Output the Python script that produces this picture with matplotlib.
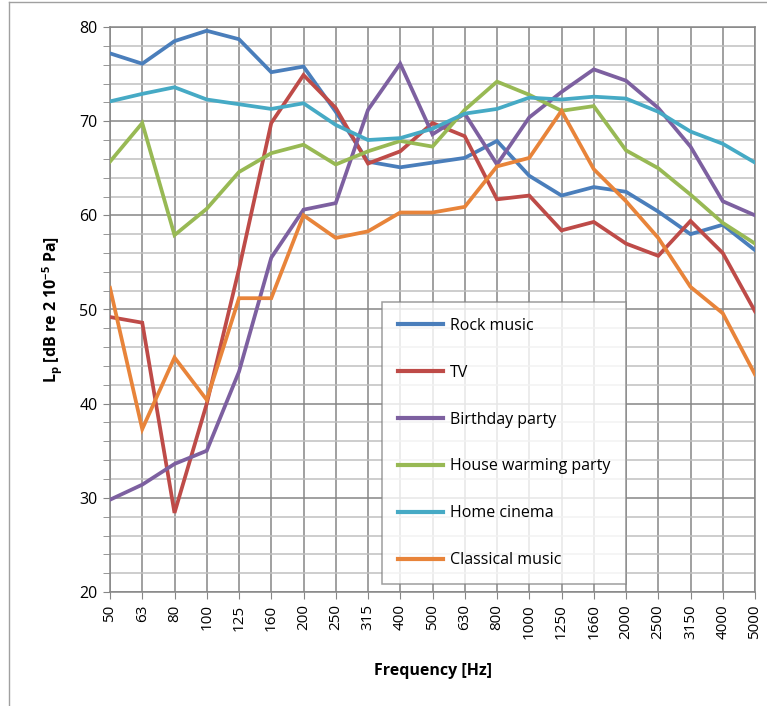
import matplotlib
matplotlib.use("Agg")
import matplotlib.pyplot as plt
from matplotlib.ticker import MultipleLocator
from matplotlib.lines import Line2D

plt.rcParams['font.family'] = ['Open Sans', 'DejaVu Sans']

freqs = ["50", "63", "80", "100", "125", "160", "200", "250", "315", "400", "500",
         "630", "800", "1000", "1250", "1660", "2000", "2500", "3150", "4000", "5000"]

rock = [77.2, 76.1, 78.5, 79.6, 78.7, 75.2, 75.8, 71.0, 65.7, 65.1, 65.6,
        66.1, 67.9, 64.2, 62.1, 63.0, 62.5, 60.4, 58.0, 59.0, 56.3]
tv = [49.2, 48.6, 28.4, 40.0, 54.3, 69.8, 74.9, 71.4, 65.5, 66.8, 69.8,
      68.4, 61.7, 62.1, 58.4, 59.3, 57.0, 55.7, 59.4, 56.0, 49.8]
birthday = [29.8, 31.4, 33.6, 35.0, 43.4, 55.5, 60.6, 61.3, 71.2, 76.1, 68.6,
            70.8, 65.4, 70.4, 73.1, 75.5, 74.3, 71.4, 67.3, 61.5, 60.0]
house = [65.7, 69.8, 57.9, 60.7, 64.6, 66.6, 67.5, 65.4, 66.8, 67.9, 67.3,
         71.2, 74.2, 72.8, 71.1, 71.6, 66.9, 65.0, 62.2, 59.2, 57.0]
cinema = [72.1, 72.9, 73.6, 72.3, 71.8, 71.3, 71.9, 69.6, 68.0, 68.2, 69.2,
          70.8, 71.3, 72.5, 72.3, 72.6, 72.4, 71.0, 68.9, 67.6, 65.6]
classical = [52.3, 37.3, 44.9, 40.4, 51.2, 51.2, 60.0, 57.6, 58.3, 60.3, 60.3,
             60.9, 65.2, 66.1, 71.1, 64.9, 61.5, 57.6, 52.4, 49.6, 43.1]

series_names = ["Rock music", "TV", "Birthday party", "House warming party",
                "Home cinema", "Classical music"]
series_values = [rock, tv, birthday, house, cinema, classical]
colors = ["#4A7EBB", "#BE4B48", "#7D60A0", "#98B954", "#46AAC5", "#E8843A"]

W, H = 767, 706
fig = plt.figure(figsize=(W / 100, H / 100), dpi=100)
ax = fig.add_axes([110 / W, (H - 592) / H, (755 - 110) / W, (592 - 27) / H])

x = list(range(len(freqs)))
for name, vals, c in zip(series_names, series_values, colors):
    ax.plot(x, vals, color=c, lw=2.7, label=name, solid_joinstyle='miter', zorder=3)

ax.set_xlim(0, len(freqs) - 1)
ax.set_ylim(20, 80)
ax.set_xticks(x)
ax.set_xticklabels(freqs, rotation=90, fontsize=11)
ax.yaxis.set_major_locator(MultipleLocator(10))
ax.yaxis.set_minor_locator(MultipleLocator(2))
ax.tick_params(axis='y', which='major', labelsize=11.5, length=5, color='#868686', pad=4)
ax.tick_params(axis='y', which='minor', length=5, color='#868686')
ax.tick_params(axis='x', length=5, color='#868686', pad=4)

ax.grid(True, which='major', axis='y', color='#868686', lw=1.1, zorder=0)
ax.grid(True, which='minor', axis='y', color='#C0C0C0', lw=1.1, zorder=0)
ax.grid(True, which='major', axis='x', color='#868686', lw=1.1, zorder=0)
ax.set_axisbelow(True)
for s in ax.spines.values():
    s.set_color('#868686')
    s.set_linewidth(1.1)

ax.set_xlabel("Frequency [Hz]", fontsize=11.5, fontweight='bold', labelpad=17)
ax.set_ylabel(r"L$_\mathregular{p}$ [dB re 2 10$^{\mathregular{-5}}$ Pa]", fontsize=11.5,
              fontweight='bold', labelpad=10)

leg = ax.legend(loc='upper left', bbox_to_anchor=((382 - 110) / 645, (592 - 302) / 565),
                fontsize=11.5, frameon=True, fancybox=False, labelspacing=1.93,
                handlelength=2.8, handletextpad=0.45, borderpad=1.0,
                borderaxespad=0.0)
leg.get_frame().set_edgecolor('#868686')
leg.get_frame().set_linewidth(1.1)
for line in leg.get_lines():
    line.set_linewidth(3.0)

# figure border
fig.add_artist(Line2D([9 / W, 9 / W], [0, 1 - 1.5 / H], transform=fig.transFigure,
                      color='#A0A0A0', lw=1.0))
fig.add_artist(Line2D([9 / W, 1], [1 - 1.5 / H, 1 - 1.5 / H], transform=fig.transFigure,
                      color='#A0A0A0', lw=1.0))

fig.savefig("out.png", dpi=100)
